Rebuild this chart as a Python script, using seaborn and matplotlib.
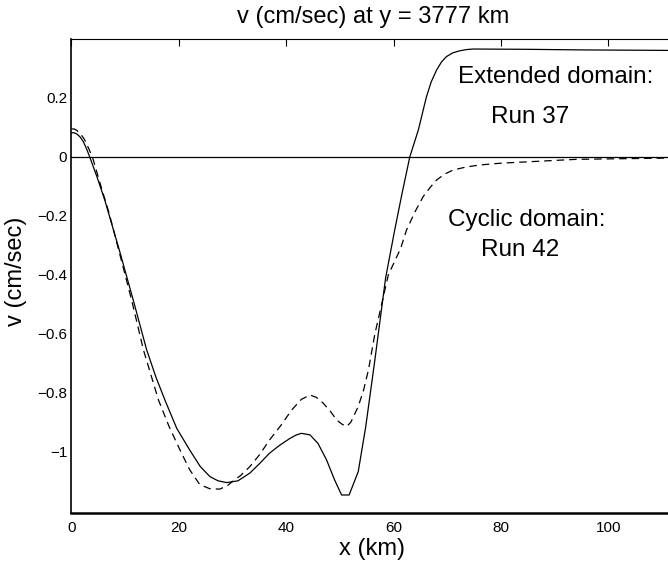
import numpy as np
import pandas as pd
import matplotlib
matplotlib.use("Agg")
import matplotlib.pyplot as plt
import seaborn as sns

# Run 37 (extended domain), solid
x_ext = [0, 0.5, 1.0, 1.6, 2.2, 2.8, 3.4, 4.8, 6.2, 8.9, 11.5, 14.0, 15.7, 17.4,
         19.6, 22.0, 24.0, 25.8, 27.3, 28.9, 31.0, 33.2, 35.0, 36.9, 38.8, 40.7,
         41.8, 42.8, 44.4, 45.9, 47.5, 49.0, 50.3, 51.7, 53.4, 54.8, 56.5, 58.5,
         60.2, 61.6, 63.0, 64.6, 66.1, 67.0, 68.0, 68.9, 69.8, 71.0, 72.3, 73.5,
         74.8, 85.0, 95.0, 105.0, 114.0]
v_ext = [0.082, 0.082, 0.078, 0.068, 0.052, 0.028, 0.0, -0.07, -0.146, -0.315,
         -0.485, -0.654, -0.745, -0.824, -0.92, -0.993, -1.05, -1.084, -1.098,
         -1.104, -1.098, -1.072, -1.04, -1.004, -0.977, -0.954, -0.943, -0.937,
         -0.942, -0.971, -1.027, -1.095, -1.146, -1.146, -1.067, -0.914, -0.688,
         -0.41, -0.247, -0.12, 0.0, 0.092, 0.204, 0.255, 0.295, 0.322, 0.34, 0.353,
         0.36, 0.364, 0.366, 0.365, 0.363, 0.362, 0.361]

# Run 42 (cyclic domain), dashed
x_cyc = [0, 0.5, 1.0, 1.7, 2.4, 3.1, 3.9, 5.5, 7.0, 9.0, 11.2, 13.4, 16.2, 18.2,
         20.2, 22.0, 23.9, 25.8, 27.6, 29.0, 30.0, 31.5, 33.2, 35.0, 36.9, 39.0,
         41.0, 42.8, 44.4, 45.6, 46.9, 48.2, 49.4, 50.3, 51.2, 52.0, 53.4, 54.4,
         55.3, 56.5, 59.0, 61.3, 62.4, 64.0, 65.5, 66.8, 68.0, 69.5, 71.1, 73.5,
         76.1, 80.0, 85.4, 94.0, 114.0]
v_cyc = [0.095, 0.095, 0.09, 0.078, 0.06, 0.033, 0.0, -0.1, -0.19, -0.33, -0.485,
         -0.654, -0.824, -0.915, -0.993, -1.06, -1.111, -1.125, -1.126, -1.115,
         -1.10, -1.08, -1.05, -1.01, -0.959, -0.91, -0.858, -0.822, -0.807, -0.815,
         -0.835, -0.862, -0.892, -0.905, -0.914, -0.90, -0.846, -0.79, -0.722,
         -0.6, -0.4, -0.31, -0.247, -0.185, -0.134, -0.103, -0.078, -0.058, -0.044,
         -0.034, -0.027, -0.021, -0.016, -0.008, -0.003]

xticks = [0, 20, 40, 60, 80, 100]
yticks = [-1, -0.8, -0.6, -0.4, -0.2, 0, 0.2]
ytick_labels = ["\u22121", "\u22120.8", "\u22120.6", "\u22120.4", "\u22120.2", "0", "0.2"]

sns.set_style("white")
plt.rcParams['font.family'] = ['Liberation Sans', 'DejaVu Sans']
plt.rcParams['text.color'] = 'black'
plt.rcParams['axes.labelcolor'] = 'black'

fig = plt.figure(figsize=(6.68, 5.65), dpi=100)
ax = fig.add_axes([0.107, 0.0926, 0.9108, 0.8389])

ext = pd.DataFrame({"x": x_ext, "v": v_ext})
cyc = pd.DataFrame({"x": x_cyc, "v": v_cyc})
sns.lineplot(data=ext, x="x", y="v", ax=ax, color="black", lw=0.9,
             sort=False, estimator=None)
sns.lineplot(data=cyc, x="x", y="v", ax=ax, color="black", lw=0.9,
             linestyle=(0, (6, 4)), sort=False, estimator=None)
ax.axhline(0, color="black", lw=0.9)

ax.set_xlim(0, 113.3)
ax.set_ylim(-1.206, 0.401)
ax.set_xticks(xticks)
ax.set_xticklabels([str(t) for t in xticks])
ax.set_yticks(yticks)
ax.set_yticklabels(ytick_labels)
ax.tick_params(axis="x", direction="in", length=5, width=0.8, top=True,
               labelsize=11, pad=6, colors="black")
ax.tick_params(axis="y", direction="in", length=5, width=0.8, labelsize=11,
               pad=3, colors="black")

for s in ["left", "top", "bottom"]:
    ax.spines[s].set_color("black")
ax.spines["right"].set_visible(False)
ax.spines["bottom"].set_linewidth(1.8)
ax.spines["left"].set_linewidth(1.2)
ax.spines["top"].set_linewidth(0.8)

ax.set_xlabel("x (km)", fontsize=17)
ax.set_ylabel("v (cm/sec)", fontsize=17)
ax.xaxis.set_label_coords(0.494, -0.053)
ax.yaxis.set_label_coords(-0.073, 0.509)
ax.set_title("v (cm/sec) at y = 3777 km", fontsize=17, x=0.4956, pad=11)

ax.text(72.0, 0.250, "Extended domain:", fontsize=17.5, va="baseline")
ax.text(78.2, 0.116, "Run 37", fontsize=17.5, va="baseline")
ax.text(70.1, -0.234, "Cyclic domain:", fontsize=17.5, va="baseline")
ax.text(76.2, -0.336, "Run 42", fontsize=17.5, va="baseline")

fig.savefig("out.png", dpi=100)
